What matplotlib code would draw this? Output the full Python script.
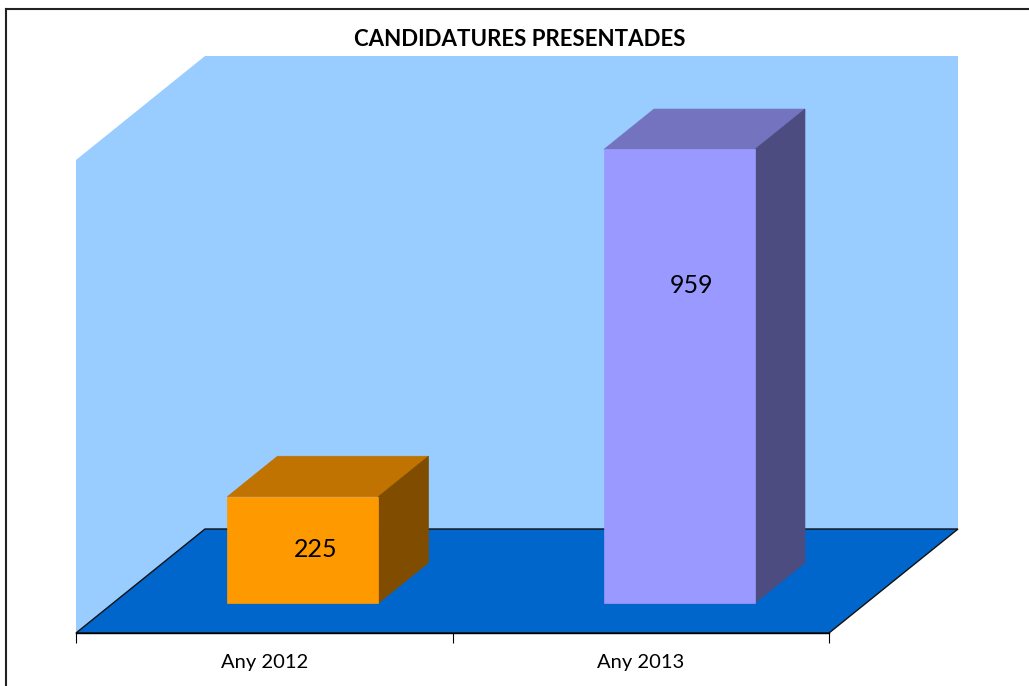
import matplotlib
matplotlib.use("Agg")
import matplotlib.pyplot as plt
from matplotlib.patches import Polygon, Rectangle
from matplotlib.lines import Line2D

# ---- data ----
categories = ["Any 2012", "Any 2013"]
values = [225, 959]
title = "CANDIDATURES PRESENTADES"
front_colors = ["#FF9900", "#9999FF"]
top_colors = ["#C07300", "#7373BF"]
side_colors = ["#804C00", "#4C4C80"]
label_frac = [0.5, 0.7]

plt.rcParams['font.family'] = ['Lato', 'DejaVu Sans']

W, H = 1029, 686
fig = plt.figure(figsize=(W / 100, H / 100), dpi=100)

# front plane of the 3D box in pixels
left_px, right_px = 76, 829
bottom_px, top_px = 633, 160
ax = fig.add_axes([left_px / W, 1 - bottom_px / H,
                   (right_px - left_px) / W, (bottom_px - top_px) / H])
YMAX = 1000
ax.set_xlim(-0.5, 1.5)
ax.set_ylim(0, YMAX)

px_per_cat = (right_px - left_px) / 2
px_per_val = (bottom_px - top_px) / YMAX
DX = 129 / px_per_cat
DY = 104 / px_per_val

wall_c = "#99CCFF"
floor_c = "#0066CC"

# back wall
ax.add_patch(Rectangle((-0.5 + DX, DY), 2, YMAX, facecolor=wall_c,
                       edgecolor="none", clip_on=False, zorder=1))
# left wall
ax.add_patch(Polygon([(-0.5, 0), (-0.5, YMAX), (-0.5 + DX, YMAX + DY), (-0.5 + DX, DY)],
                     closed=True, facecolor=wall_c, edgecolor="none",
                     clip_on=False, zorder=1))
# floor
ax.add_patch(Polygon([(-0.5, 0), (1.5, 0), (1.5 + DX, DY), (-0.5 + DX, DY)],
                     closed=True, facecolor=floor_c, edgecolor="#111111",
                     linewidth=1.0, clip_on=False, zorder=2))

# bars
bw = 0.401
f0 = 0.288
dd = 0.388
xshift = 0.004
for i, v in enumerate(values):
    x0 = i - bw / 2 + f0 * DX + xshift
    x1 = x0 + bw
    y0 = f0 * DY
    y1 = y0 + v
    ox, oy = dd * DX, dd * DY
    ax.add_patch(Polygon([(x0, y1), (x1, y1), (x1 + ox, y1 + oy), (x0 + ox, y1 + oy)],
                         closed=True, facecolor=top_colors[i], edgecolor=top_colors[i],
                         linewidth=0.5, clip_on=False, zorder=3))
    ax.add_patch(Polygon([(x1, y0), (x1, y1), (x1 + ox, y1 + oy), (x1 + ox, y0 + oy)],
                         closed=True, facecolor=side_colors[i], edgecolor=side_colors[i],
                         linewidth=0.5, clip_on=False, zorder=3))
    ax.add_patch(Rectangle((x0, y0), bw, v, facecolor=front_colors[i],
                           edgecolor=front_colors[i], linewidth=0.5,
                           clip_on=False, zorder=4))
    ax.text((x0 + x1) / 2 + ox / 4, y0 + v * label_frac[i], str(v), ha="center",
            va="center", fontsize=18, color="black", zorder=5)

# axis
for s in ["top", "right", "left"]:
    ax.spines[s].set_visible(False)
ax.spines["bottom"].set_color("black")
ax.spines["bottom"].set_linewidth(1.0)
ax.spines["bottom"].set_zorder(6)
ax.set_yticks([])
ax.set_xticks([-0.5, 0.5, 1.5])
ax.set_xticklabels([])
ax.tick_params(axis="x", which="major", length=7.5, width=0.8, color="black", direction="out")
ax.set_xticks([0, 1], minor=True)
ax.set_xticklabels(categories, minor=True)
ax.tick_params(axis="x", which="minor", length=0, pad=15, labelsize=14.5, labelcolor="black")
ax.patch.set_visible(False)

fig.text(0.505, 1 - 40 / H, title, ha="center", va="center",
         fontsize=16, fontweight="bold", color="black")

# chart border (top and left visible)
fig.add_artist(Line2D([6 / W, 1], [1 - 9 / H, 1 - 9 / H], transform=fig.transFigure,
                      color="#222222", linewidth=1.5))
fig.add_artist(Line2D([6 / W, 6 / W], [0, 1 - 9 / H], transform=fig.transFigure,
                      color="#222222", linewidth=1.5))

fig.savefig("out.png", dpi=100)
